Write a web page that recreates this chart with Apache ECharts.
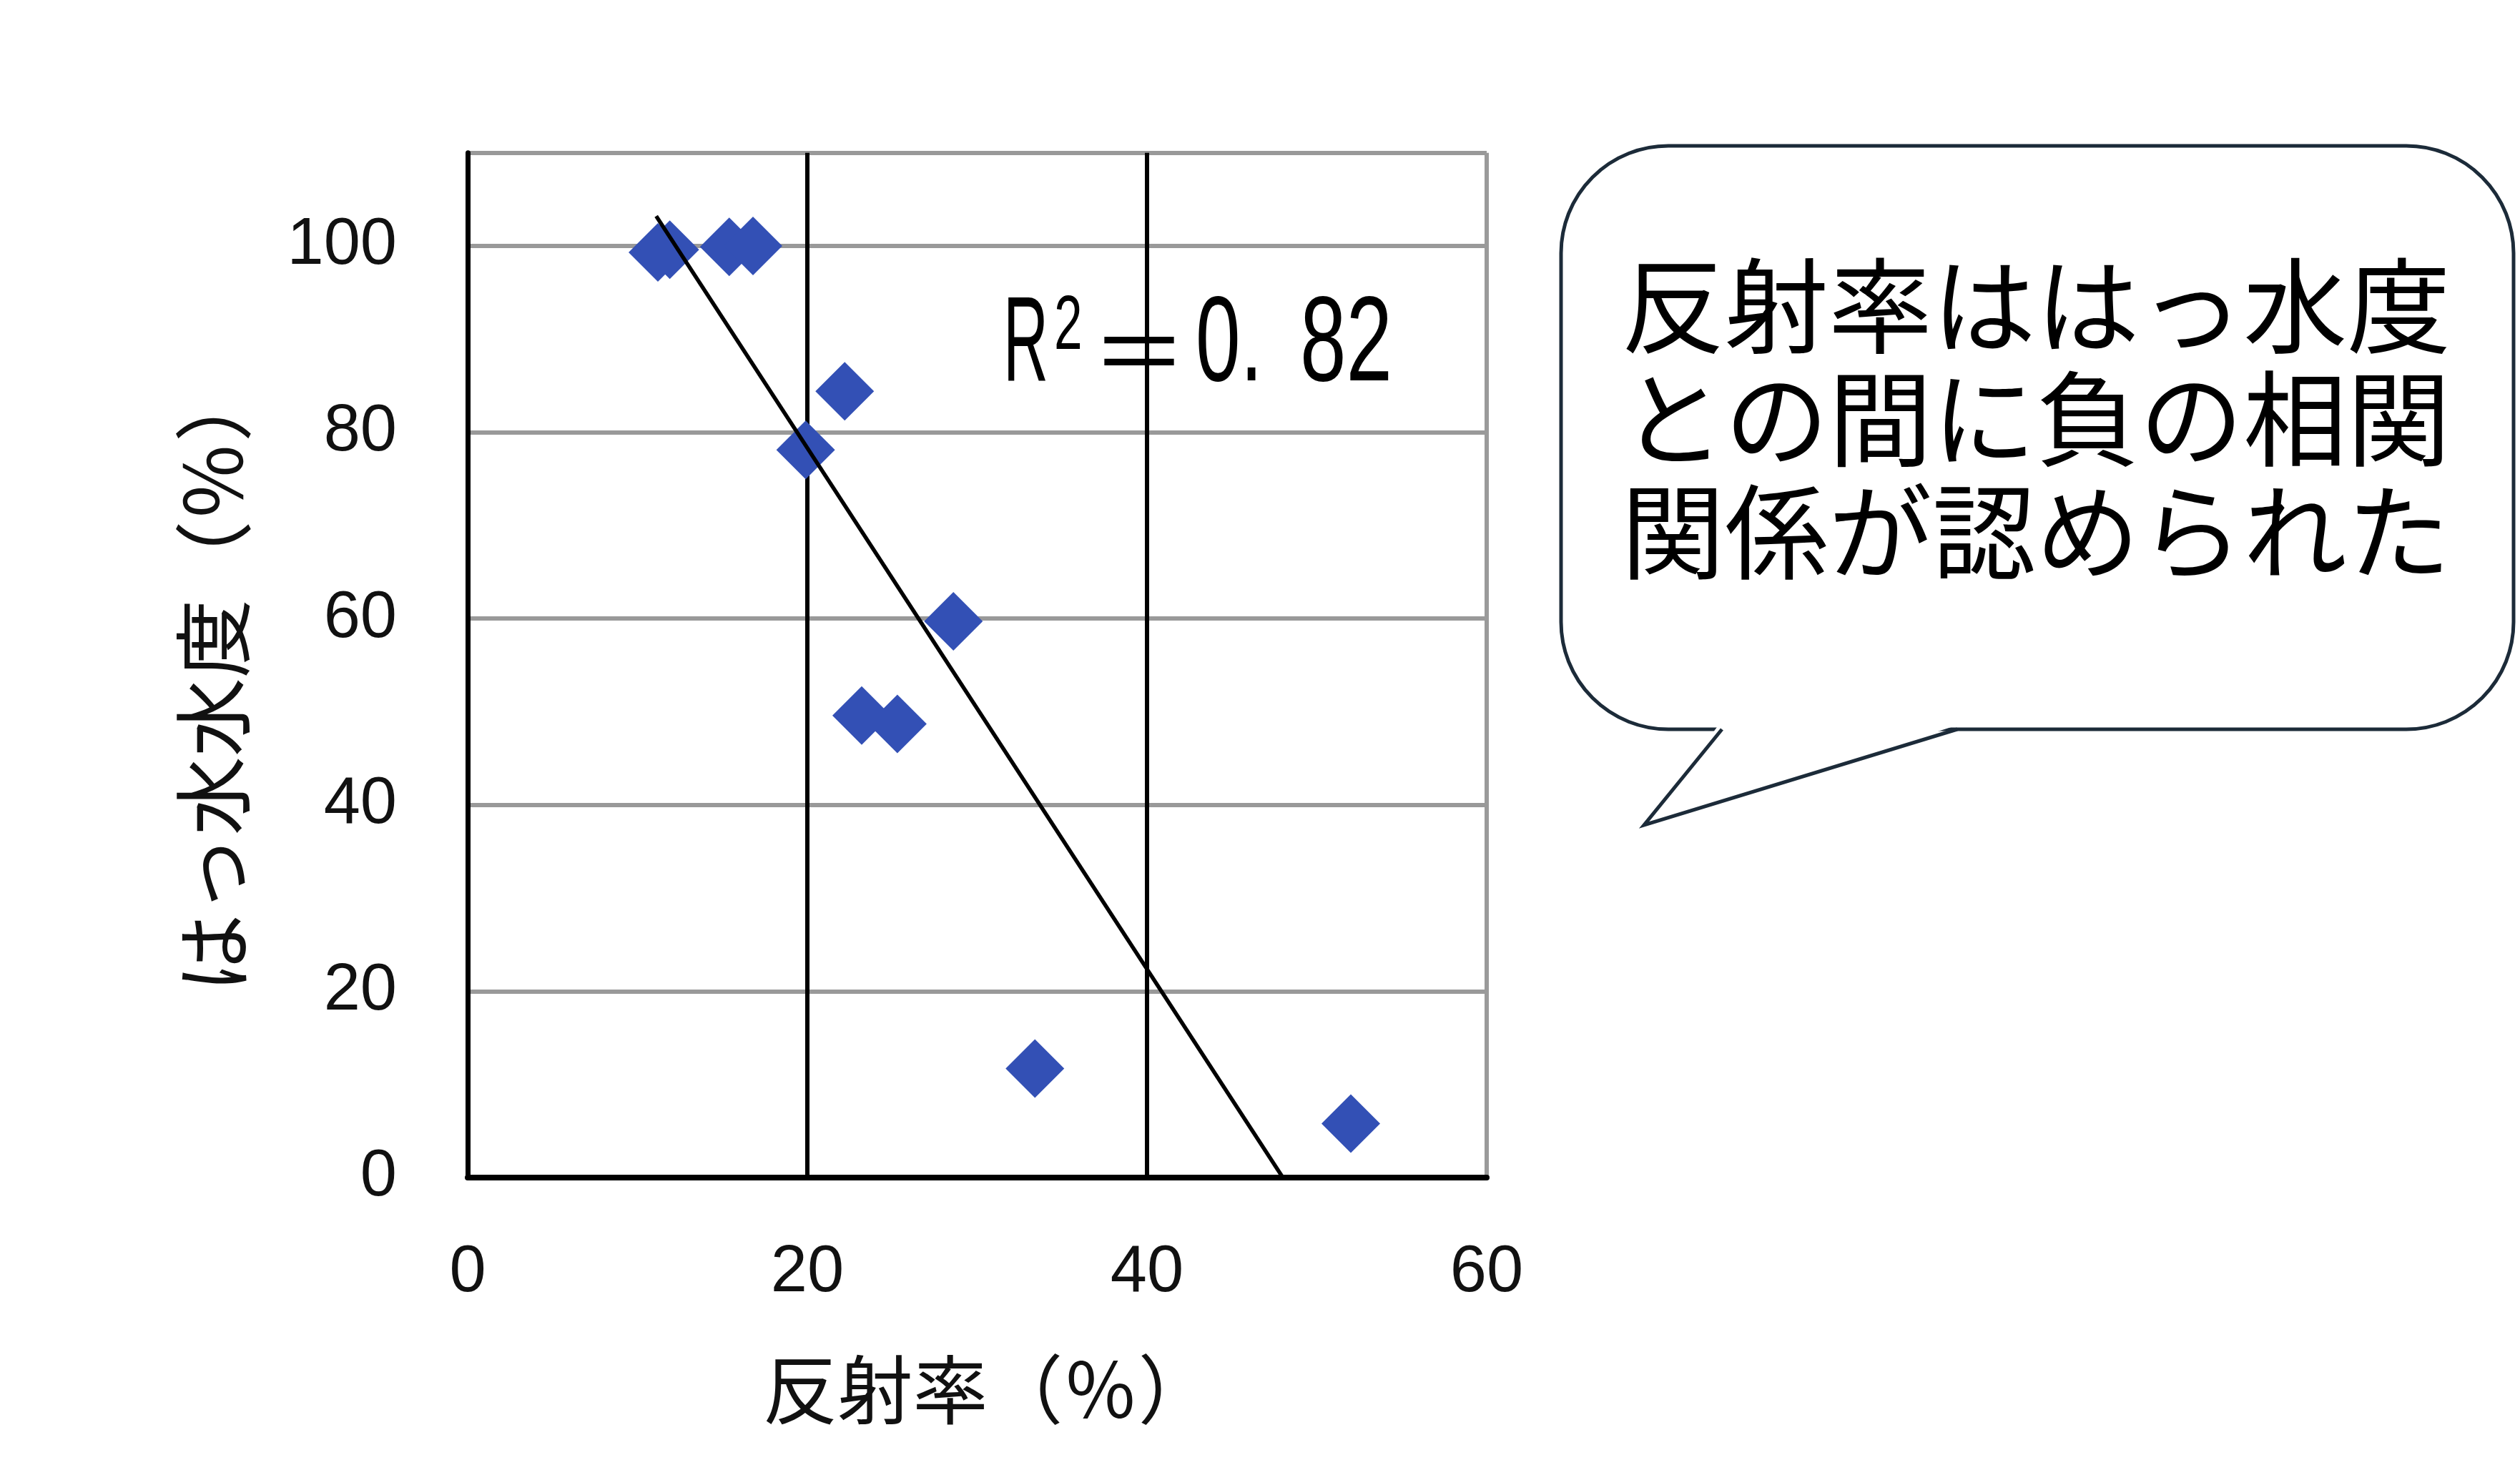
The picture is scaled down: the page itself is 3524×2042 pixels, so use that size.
<!DOCTYPE html>
<html>
<head>
<meta charset="utf-8">
<script src="https://cdn.jsdelivr.net/npm/echarts@6/dist/echarts.min.js"></script>
<style>
  html, body { margin: 0; padding: 0; background: #fff; }
  #main { width: 3524px; height: 2042px; }
</style>
</head>
<body>
<div id="main"></div>
<script>
// 反射率とはっ水度の散布図
var reflect = [11.2, 11.9, 15.4, 16.8, 22.2, 19.9, 28.6, 23.2, 25.3, 33.4, 52.0];
var repel   = [99.3, 99.6, 99.9, 100, 84.4, 78.1, 59.7, 49.6, 48.7, 11.7, 5.8];
var trendX  = [11.1, 48.0];
var trendY  = [103.2, 0];
var xTicks  = [0, 20, 40, 60];
var yTicks  = [0, 20, 40, 60, 80, 100];
var callout = ['反射率ははっ水度', 'との間に負の相関', '関係が認められた'];

var points = reflect.map(function (v, i) { return [v, repel[i]]; });
var trend = trendX.map(function (v, i) { return [v, trendY[i]]; });

var dom = document.getElementById('main');
var myChart = echarts.init(dom);

var labelFont = '"Liberation Sans", Arial, sans-serif';
var jpFont = '"Noto Sans CJK JP", sans-serif';

var option = {
    backgroundColor: '#ffffff',
    animation: false,
    grid: { left: 654, right: 1445, top: 213.7, bottom: 395, containLabel: false },
    xAxis: {
        type: 'value',
        min: 0, max: 60, interval: 20,
        name: '反射率（％）',
        nameLocation: 'middle',
        nameGap: 244,
        nameTextStyle: { fontFamily: jpFont, fontSize: 105, color: '#111', padding: [0, 0, 0, 30] },
        axisLine: { show: true, onZero: false, lineStyle: { color: '#000', width: 8 } },
        axisTick: { show: false },
        axisLabel: {
            fontFamily: labelFont, fontSize: 92, color: '#111', margin: 88,
            formatter: function (v) { return xTicks.indexOf(v) >= 0 ? String(v) : ''; }
        },
        splitLine: { show: true, lineStyle: { color: ['#000', '#000', '#000', '#9a9a9a'], width: 6 } }
    },
    yAxis: {
        type: 'value',
        min: 0, max: 110, interval: 20,
        name: 'はっ水水度（％）',
        nameLocation: 'middle',
        nameGap: 301,
        nameTextStyle: { fontFamily: jpFont, fontSize: 110, color: '#111', padding: [0, 36, 0, 0] },
        axisLine: { show: true, onZero: false, lineStyle: { color: '#000', width: 7 } },
        axisTick: { show: false },
        axisLabel: {
            fontFamily: labelFont, fontSize: 92, color: '#111', margin: 99,
            formatter: function (v) { return yTicks.indexOf(v) >= 0 ? String(v) : ''; }
        },
        splitLine: { show: true, lineStyle: { color: '#999999', width: 6 } }
    },
    series: [
        {
            name: 'trend',
            type: 'line',
            data: trend,
            symbol: 'none',
            lineStyle: { color: '#000', width: 5.5 },
            z: 3
        },
        {
            name: 'data',
            type: 'scatter',
            data: points,
            symbol: 'diamond',
            symbolSize: 82,
            itemStyle: { color: '#3350b5', opacity: 1 },
            z: 2
        }
    ],
    graphic: [
        // R^2 annotation
        { type: 'text', x: 1403, y: 486, scaleX: 0.52,
          style: { text: 'R', fontFamily: labelFont, fontSize: 168, fill: '#000',
                   textAlign: 'left', textVerticalAlign: 'middle', align: 'left', verticalAlign: 'middle' } },
        { type: 'text', x: 1474, y: 458, scaleX: 0.66,
          style: { text: '2', fontFamily: labelFont, fontSize: 108, fill: '#000',
                   textAlign: 'left', textVerticalAlign: 'middle', align: 'left', verticalAlign: 'middle' } },
        { type: 'text', x: 1593, y: 491,
          style: { text: '＝', fontFamily: jpFont, fontSize: 134, fill: '#000',
                   textAlign: 'center', textVerticalAlign: 'middle', align: 'center', verticalAlign: 'middle' } },
        { type: 'text', x: 1672, y: 486, scaleX: 0.67,
          style: { text: '0.', fontFamily: labelFont, fontSize: 168, fill: '#000',
                   textAlign: 'left', textVerticalAlign: 'middle', align: 'left', verticalAlign: 'middle' } },
        { type: 'text', x: 1818, y: 486, scaleX: 0.69,
          style: { text: '82', fontFamily: labelFont, fontSize: 168, fill: '#000',
                   textAlign: 'left', textVerticalAlign: 'middle', align: 'left', verticalAlign: 'middle' } },
        // speech bubble
        { type: 'rect', z: 10,
          shape: { x: 2183, y: 204, width: 1332, height: 816, r: 150 },
          style: { fill: '#fff', stroke: '#1c2b39', lineWidth: 5 } },
        { type: 'polygon', z: 11,
          shape: { points: [[2404, 1013], [2299, 1154], [2741, 1013]] },
          style: { fill: '#fff', stroke: null } },
        { type: 'polyline', z: 12,
          shape: { points: [[2408, 1020], [2299, 1154], [2737, 1020]] },
          style: { fill: null, stroke: '#1c2b39', lineWidth: 5, lineJoin: 'miter' } },
        { type: 'text', z: 13, x: 2847, y: 586,
          style: { text: callout.join('\n'), fontFamily: jpFont, fontSize: 145, lineHeight: 158, fill: '#000',
                   textAlign: 'center', textVerticalAlign: 'middle', align: 'center', verticalAlign: 'middle' } }
    ]
};

if (option && typeof option === 'object') {
    myChart.setOption(option, true);
}
</script>
</body>
</html>
